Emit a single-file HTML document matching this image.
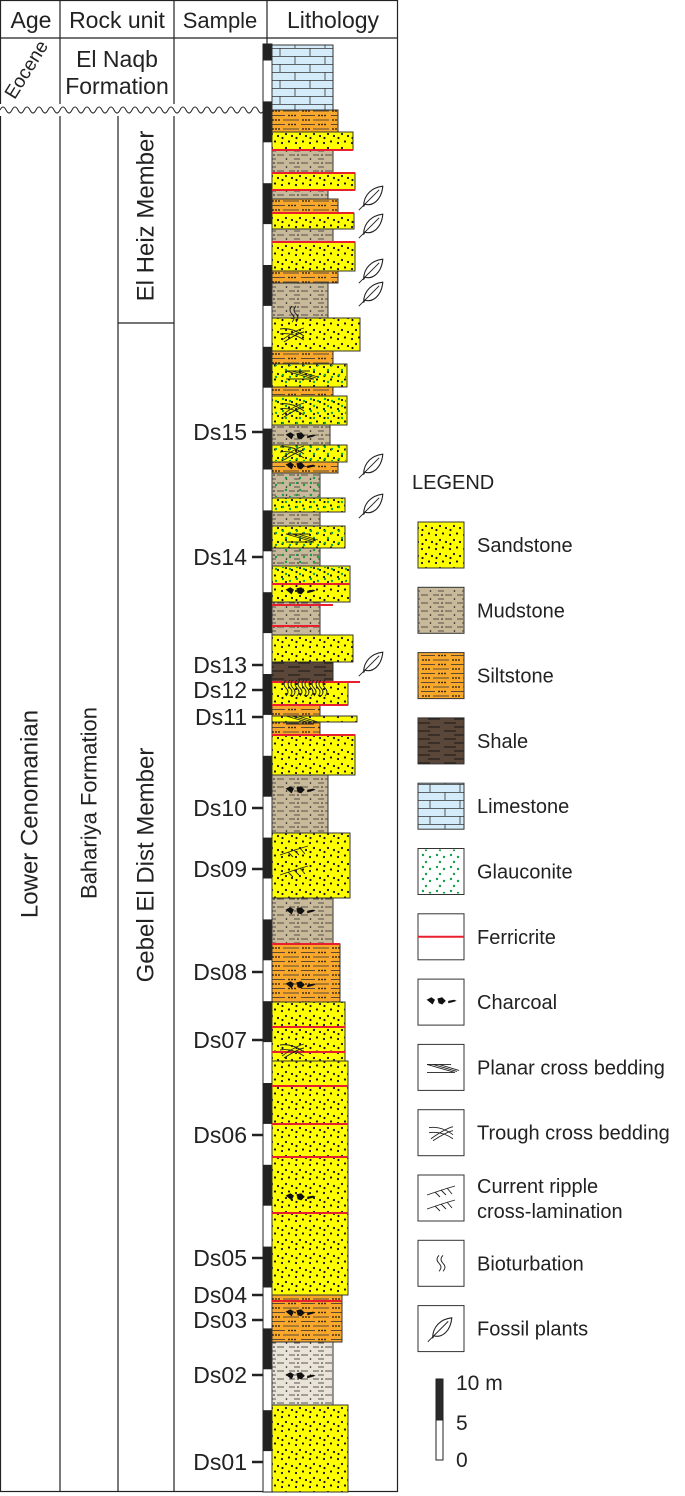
<!DOCTYPE html>
<html><head><meta charset="utf-8">
<style>
html,body{margin:0;padding:0;background:#fff;}
svg{display:block;font-family:"Liberation Sans",Arial,sans-serif;}
</style></head>
<body>
<svg id="fig" width="685" height="1496" viewBox="0 0 685 1496" xmlns="http://www.w3.org/2000/svg">
<defs>
<pattern id="p-sand" width="14" height="14" patternUnits="userSpaceOnUse">
<rect width="14" height="14" fill="#ffff00"/>
<circle cx="2" cy="3" r="1.1" fill="#111"/><circle cx="9" cy="1.5" r="1.1" fill="#111"/>
<circle cx="6" cy="8" r="1.1" fill="#111"/><circle cx="12" cy="10" r="1.1" fill="#111"/><circle cx="2.5" cy="12" r="1.1" fill="#111"/>
</pattern>
<pattern id="p-mud" width="24" height="8" patternUnits="userSpaceOnUse">
<rect width="24" height="8" fill="#c9b99b"/>
<line x1="1" y1="3" x2="7" y2="3" stroke="#333" stroke-width="0.8"/><line x1="13" y1="3" x2="20" y2="3" stroke="#333" stroke-width="0.8"/>
<circle cx="10" cy="3" r="0.8" fill="#111"/><circle cx="22.5" cy="7" r="0.8" fill="#111"/>
<line x1="6" y1="7" x2="12" y2="7" stroke="#333" stroke-width="0.8"/>
</pattern>
<pattern id="p-mudlight" width="24" height="8" patternUnits="userSpaceOnUse">
<rect width="24" height="8" fill="#e9e3d8"/>
<line x1="1" y1="3" x2="7" y2="3" stroke="#333" stroke-width="0.8"/><line x1="13" y1="3" x2="20" y2="3" stroke="#333" stroke-width="0.8"/>
<circle cx="10" cy="3" r="0.8" fill="#111"/><circle cx="22.5" cy="7" r="0.8" fill="#111"/>
<line x1="6" y1="7" x2="12" y2="7" stroke="#333" stroke-width="0.8"/>
</pattern>
<pattern id="p-silt" width="30" height="9" patternUnits="userSpaceOnUse">
<rect width="30" height="9" fill="#f9a82c"/>
<circle cx="3" cy="3" r="0.9" fill="#111"/><circle cx="6" cy="3" r="0.9" fill="#111"/><circle cx="9" cy="3" r="0.9" fill="#111"/>
<line x1="13" y1="3" x2="29" y2="3" stroke="#333" stroke-width="0.8"/>
<line x1="1" y1="7.5" x2="15" y2="7.5" stroke="#333" stroke-width="0.8"/>
<circle cx="19" cy="7.5" r="0.9" fill="#111"/><circle cx="22" cy="7.5" r="0.9" fill="#111"/><circle cx="25" cy="7.5" r="0.9" fill="#111"/>
</pattern>
<pattern id="p-shale" width="26" height="8" patternUnits="userSpaceOnUse">
<rect width="26" height="8" fill="#5b4739"/>
<line x1="2" y1="3" x2="14" y2="3" stroke="#111" stroke-width="0.9"/><line x1="12" y1="7" x2="24" y2="7" stroke="#111" stroke-width="0.9"/>
</pattern>
<pattern id="p-lime" width="30" height="16" patternUnits="userSpaceOnUse">
<rect width="30" height="16" fill="#d4ecfa"/>
<line x1="0" y1="0.5" x2="30" y2="0.5" stroke="#333" stroke-width="0.8"/>
<line x1="0" y1="8.5" x2="30" y2="8.5" stroke="#333" stroke-width="0.8"/>
<line x1="10" y1="0" x2="10" y2="8" stroke="#333" stroke-width="0.8"/>
<line x1="25" y1="8" x2="25" y2="16" stroke="#333" stroke-width="0.8"/>
</pattern>
<pattern id="p-glauc" width="14" height="12" patternUnits="userSpaceOnUse">
<circle cx="3" cy="3" r="1.2" fill="#12a04a"/><circle cx="10" cy="5" r="1.2" fill="#12a04a"/><circle cx="6" cy="10" r="1.2" fill="#12a04a"/>
</pattern>
</defs>
<g id="frame"></g>
<g id="beds"></g>
<g id="marks"></g>
<g id="samples"></g>
<g id="legend"></g>
</svg>
<script>
const bedTop =    [45,110,132,150,173,190,199,213,229,242,271,283,318,351,364,387,396,425,445,462,473,498,512,526,548,566,584,602,626,635,662,682,705,716,722,735,775,833,898,944,1002,1061,1295,1342,1405];
const bedBottom = [110,132,150,173,190,199,213,229,242,271,283,318,351,364,387,396,425,445,462,473,498,512,526,548,566,584,602,626,635,662,682,705,716,722,735,775,833,898,944,1002,1061,1295,1342,1405,1492];
const bedRight =  [333,338,353,333,355,328,338,354,333,355,338,328,360,333,347,333,347,330,347,338,320,345,320,345,320,350,350,320,320,353,333,348,320,357,320,355,328,350,333,340,345,348,342,333,348];
const bedLith =   ['lime','silt','sand','mud','sand','mud','silt','sand','mud','sand','silt','mud','sand','silt','sand','silt','sand','mud','sand','silt','mud','sand','mud','sand','mud','sand','sand','mud','mud','sand','shale','sand','silt','sand','silt','sand','mud','sand','mud','silt','sand','sand','silt','mudlight','sand'];
const bedGlauc = [14,16,18,20,21,23,24,25];
const ferricrite = [[150,353],[150,333],[173,355],[190,355],[213,354],[242,355],[584,350],[605,333],[626,320],[682,360],[705,348],[735,355],[944,340],[1027,345],[1052,345],[1086,348],[1124,348],[1157,348],[1213,348],[1301,342]];
const sampleNames = ['Ds15','Ds14','Ds13','Ds12','Ds11','Ds10','Ds09','Ds08','Ds07','Ds06','Ds05','Ds04','Ds03','Ds02','Ds01'];
const sampleY = [432,557,665,690,717,808,869,972,1040,1135,1258,1295,1320,1375,1462];
const plantY = [197,225,270,293,465,505,663];
const charcoalY = [437,467,592,791,912,986,1198,1314,1377];
const legendNames = ['Sandstone','Mudstone','Siltstone','Shale','Limestone','Glauconite','Ferricrite','Charcoal','Planar cross bedding','Trough cross bedding','Current ripple|cross-lamination','Bioturbation','Fossil plants'];

const NS='http://www.w3.org/2000/svg';
function mk(tag,attrs,parent,name){const e=document.createElementNS(NS,tag);for(const k in attrs)e.setAttribute(k,attrs[k]);


parent.appendChild(e);return e;}
const F=document.getElementById('frame'),B=document.getElementById('beds'),M=document.getElementById('marks'),S=document.getElementById('samples'),L=document.getElementById('legend');
const X0=272;

mk('rect',{x:0.5,y:0.5,width:397,height:1491,fill:'none',stroke:'#222','stroke-width':1.2},F,'outer-border');
mk('line',{x1:0,y1:38,x2:398,y2:38,stroke:'#222','stroke-width':1.2},F,'header-divider');
[60,174,267].forEach(x=>mk('line',{x1:x,y1:0,x2:x,y2:1492,stroke:'#222','stroke-width':1.2},F,'column-divider'));
mk('line',{x1:118,y1:110,x2:118,y2:1492,stroke:'#222','stroke-width':1.2},F,'member-divider');
mk('line',{x1:118,y1:323,x2:174,y2:323,stroke:'#222','stroke-width':1.2},F,'member-boundary');
mk('rect',{x:0,y:104,width:266,height:12,fill:'#fff'},F,'unconformity-gap');
let d='M0 110';for(let x=0;x<268;x+=12){d+=` q3 -6 6 0 q3 6 6 0`;}
mk('path',{d:d,fill:'none',stroke:'#222','stroke-width':1},F,'unconformity-wavy-line');
const hdr=[['Age',31,23],['Rock unit',117,23],['Sample',220,22],['Lithology',333,23]];
hdr.forEach(h=>{const t=mk('text',{x:h[1],y:28,'font-size':h[2],'text-anchor':'middle',fill:'#222'},F,'header-'+h[0].toLowerCase().replace(' ','-'));t.textContent=h[0];});
function rot(txt,x,y,ang,size,name){const t=mk('text',{x:x,y:y,'font-size':size,'text-anchor':'middle','dominant-baseline':'central',fill:'#222',transform:`rotate(${ang} ${x} ${y})`},F,name);t.textContent=txt;}
rot('Lower Cenomanian',30,814,-90,24,'age-lower-cenomanian');
rot('Bahariya Formation',89,803,-90,22,'bahariya-formation');
rot('Gebel El Dist Member',146,865,-90,24,'gebel-el-dist-member');
rot('El Heiz  Member',146,216,-90,24,'el-heiz-member');
rot('Eocene',27,70,-58,19,'age-eocene');
let t=mk('text',{x:117,y:67,'font-size':23,'text-anchor':'middle',fill:'#222'},F,'el-naqb-label');t.textContent='El Naqb';
t=mk('text',{x:117,y:94,'font-size':23,'text-anchor':'middle',fill:'#222'},F,'formation-label');t.textContent='Formation';

mk('rect',{x:263,y:44,width:9,height:1448,fill:'#fff',stroke:'#222','stroke-width':1},F,'thickness-scale');
let black=false;for(let y=1492;y>44;y-=40.9){if(black){const top=Math.max(44,y-40.9);mk('rect',{x:263,y:top,width:9,height:y-top,fill:'#222'},F,'scale-segment');}black=!black;}

for(let i=0;i<bedTop.length;i++){
 const w=bedRight[i]-X0,h=bedBottom[i]-bedTop[i];
 mk('rect',{x:X0,y:bedTop[i],width:w,height:h,fill:`url(#p-${bedLith[i]})`,stroke:'#333','stroke-width':1},B,'bed-'+bedLith[i]);
 if(bedGlauc.includes(i))mk('rect',{x:X0+1,y:bedTop[i]+1,width:w-2,height:h-2,fill:'url(#p-glauc)'},B,'glauconite-overlay');
}
ferricrite.forEach(f=>mk('line',{x1:X0,y1:f[0],x2:f[1],y2:f[0],stroke:'#e8202e','stroke-width':2},B,'ferricrite-line'));

function leaf(cx,cy,g,s){s=s||1.2;const p=mk('g',{transform:`translate(${cx} ${cy}) scale(${s})`},g,'fossil-plant-icon');
 mk('path',{d:'M-7 8 C-7 -2 0 -8 9 -9 C8 2 1 8 -6 6 Z',fill:'#fff',stroke:'#222','stroke-width':0.9},p,'leaf-outline');
 mk('line',{x1:-11,y1:11,x2:6,y2:-6,stroke:'#222','stroke-width':0.8},p,'leaf-vein');}
plantY.forEach(y=>leaf(372,y,M));
function charcoal(cx,cy,g){const p=mk('g',{transform:`translate(${cx} ${cy}) scale(1.2)`},g,'charcoal-icon');
 mk('path',{d:'M-12 -2 l4 -2 l3 2 l-2 4 z M-3 -3 l4 -1 l3 3 l-3 3 l-3 -1 z M6 -1 l5 -1 l2 1 l-3 1 l-4 1z',fill:'#111'},p,'charcoal-shape');}
charcoalY.forEach(y=>charcoal(300,y,M));
function trough(cx,cy,g){const p=mk('g',{transform:`translate(${cx} ${cy})`},g,'trough-cross-bedding');
 mk('path',{d:'M-12 -5 Q0 -7 12 2 M-12 0 Q0 -2 12 6 M-10 6 Q4 -4 12 -6 M-8 8 Q6 -1 12 -2',fill:'none',stroke:'#222','stroke-width':0.9},p,'trough-lines');}
[334,409,452,1050].forEach(y=>trough(292,y,M));
function planar(cx,cy,g){const p=mk('g',{transform:`translate(${cx} ${cy})`},g,'planar-cross-bedding');
 mk('path',{d:'M-14 -3 L10 -3 M-14 -3 L14 5 M-8 -3 L16 4 M-2 -3 L18 3 M-14 5 L14 5',fill:'none',stroke:'#222','stroke-width':0.9},p,'planar-lines');}
[374,537].forEach(y=>planar(300,y,M));planar(300,719,M);
function ripple(cx,cy,g){const p=mk('g',{transform:`translate(${cx} ${cy})`},g,'ripple-lamination');
 mk('path',{d:'M-14 3 Q0 -2 14 -6 M-6 0 l5 5 M0 -2 l5 5 M6 -4 l5 6',fill:'none',stroke:'#222','stroke-width':0.9},p,'ripple-lines');}
ripple(294,852,M);ripple(294,872,M);
function bio(cx,cy,g){const p=mk('g',{transform:`translate(${cx} ${cy})`},g,'bioturbation-icon');
 mk('path',{d:'M-2 -8 q-4 4 0 8 q4 4 0 8 M2 -8 q-4 4 0 8 q4 4 0 8',fill:'none',stroke:'#222','stroke-width':0.9},p,'burrow');}
bio(294,314,M);for(let x=288;x<330;x+=7)bio(x,688,M);

for(let i=0;i<sampleNames.length;i++){
 const t=mk('text',{x:247,y:sampleY[i]+8,'font-size':23,'text-anchor':'end',fill:'#222'},S,'sample-'+sampleNames[i].toLowerCase());t.textContent=sampleNames[i];
 mk('line',{x1:252,y1:sampleY[i],x2:263,y2:sampleY[i],stroke:'#222','stroke-width':2.5},S,'sample-tick');
}

t=mk('text',{x:412,y:489,'font-size':20,fill:'#222'},L,'legend-title');t.textContent='LEGEND';
const fills=['url(#p-sand)','url(#p-mud)','url(#p-silt)','url(#p-shale)','url(#p-lime)','#fff','#fff','#fff','#fff','#fff','#fff','#fff','#fff'];
for(let i=0;i<legendNames.length;i++){
 const cy=545+i*65.3,bx=418,by=cy-23;
 const g=mk('g',{},L,'legend-entry-'+legendNames[i].split('|')[0].toLowerCase().replace(/ /g,'-'));
 mk('rect',{x:bx,y:by,width:46,height:46,fill:fills[i],stroke:'#333','stroke-width':1},g,'legend-swatch');
 if(i===5)mk('rect',{x:bx+1,y:by+1,width:44,height:44,fill:'url(#p-glauc)'},g,'glauconite-swatch');
 if(i===6)mk('line',{x1:bx,y1:cy,x2:bx+46,y2:cy,stroke:'#e8202e','stroke-width':2},g,'ferricrite-swatch');
 if(i===7)charcoal(bx+23,cy,g);
 if(i===8)planar(bx+23,cy,g);
 if(i===9)trough(bx+23,cy,g);
 if(i===10){ripple(bx+23,cy-6,g);ripple(bx+23,cy+8,g);}
 if(i===11)bio(bx+23,cy,g);
 if(i===12)leaf(bx+23,cy,g);
 const parts=legendNames[i].split('|');
 if(parts.length===1){const tt=mk('text',{x:477,y:cy+7,'font-size':20,fill:'#222'},g,'legend-label');tt.textContent=parts[0];}
 else{parts.forEach((p,j)=>{const tt=mk('text',{x:477,y:cy-5+j*25,'font-size':20,fill:'#222'},g,'legend-label');tt.textContent=p;});}
}
mk('rect',{x:436,y:1420,width:7,height:40,fill:'#fff',stroke:'#222','stroke-width':1},L,'scale-bar-white');
mk('rect',{x:436,y:1379,width:7,height:41,fill:'#2a2a2a',stroke:'#222','stroke-width':1},L,'scale-bar-black');
[['10 m',1390],['5',1430],['0',1467]].forEach(s=>{const tt=mk('text',{x:456,y:s[1],'font-size':21,fill:'#222'},L,'scale-label');tt.textContent=s[0];});
</script>
</body></html>
